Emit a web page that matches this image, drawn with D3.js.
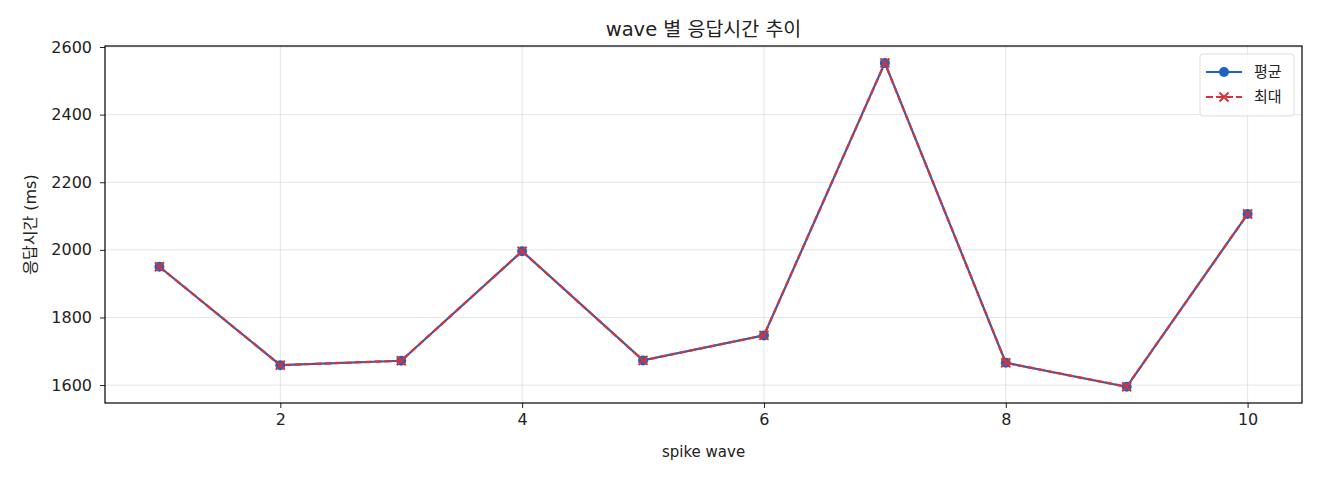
<!DOCTYPE html>
<html><head><meta charset="utf-8">
<script src="https://cdn.jsdelivr.net/npm/d3@7"></script>
<style>
html,body{margin:0;padding:0;background:#fff;}
text{font-family:"DejaVu Sans","Noto Sans CJK KR",sans-serif;fill:#222;}
</style></head>
<body><svg id="c" width="1320" height="480"></svg>
<script>
const waves = [1,2,3,4,5,6,7,8,9,10];
const avgMs = [1950,1659,1672,1996,1673,1747,2553,1666,1595,2106];
const maxMs = [1950,1659,1672,1996,1673,1747,2553,1666,1595,2106];
const xTicks = [2,4,6,8,10];
const yTicks = [1600,1800,2000,2200,2400,2600];
const seriesNames = ["평균","최대"];
const title = "wave 별 응답시간 추이";
const xLabel = "spike wave";
const yLabel = "응답시간 (ms)";

const blue = "#1f62c4", red = "#d3333a";
const FF = '"DejaVu Sans","Noto Sans CJK KR",sans-serif';
const L=105,R=1302,T=46,B=403;
const svg = d3.select("#c");
const x = d3.scaleLinear().domain([0.55,10.45]).range([L,R]);
const y = d3.scaleLinear().domain([1547,2603]).range([B,T]);

// grid
svg.append("g").selectAll("line").data(xTicks).join("line")
  .attr("x1",d=>x(d)).attr("x2",d=>x(d)).attr("y1",T).attr("y2",B)
  .attr("stroke","#000").attr("stroke-opacity",0.1).attr("stroke-width",1);
svg.append("g").selectAll("line").data(yTicks).join("line")
  .attr("y1",d=>y(d)).attr("y2",d=>y(d)).attr("x1",L).attr("x2",R)
  .attr("stroke","#000").attr("stroke-opacity",0.1).attr("stroke-width",1);

// axes
const xa = svg.append("g").attr("transform",`translate(0,${B})`)
  .call(d3.axisBottom(x).tickValues(xTicks).tickSize(5).tickPadding(6).tickFormat(d3.format("d")));
const ya = svg.append("g").attr("transform",`translate(${L},0)`)
  .call(d3.axisLeft(y).tickValues(yTicks).tickSize(5).tickPadding(8).tickFormat(d3.format("d")));
[xa,ya].forEach(a=>{a.select(".domain").remove();a.selectAll("text").attr("font-size",16).attr("fill","#222").style("font-family",FF);a.selectAll("line").attr("stroke","#222");});

svg.append("rect").attr("x",L).attr("y",T).attr("width",R-L).attr("height",B-T)
  .attr("fill","none").attr("stroke","#000").attr("stroke-width",1.2);

// series
const line = d3.line().x((d,i)=>x(waves[i])).y(d=>y(d));
svg.append("path").datum(avgMs).attr("d",line).attr("fill","none").attr("stroke",blue).attr("stroke-width",2.2);
svg.append("g").selectAll("circle").data(avgMs).join("circle")
  .attr("cx",(d,i)=>x(waves[i])).attr("cy",d=>y(d)).attr("r",5).attr("fill",blue);
svg.append("path").datum(maxMs).attr("d",line).attr("fill","none").attr("stroke",red).attr("stroke-width",2.2).attr("stroke-dasharray","7,3");
const xs=4.5;
svg.append("g").selectAll("path").data(maxMs).join("path")
  .attr("d",(d,i)=>{const cx=x(waves[i]),cy=y(d);return `M${cx-xs},${cy-xs}L${cx+xs},${cy+xs}M${cx-xs},${cy+xs}L${cx+xs},${cy-xs}`;})
  .attr("stroke",red).attr("stroke-width",2).attr("fill","none");

// labels
svg.append("text").attr("x",(L+R)/2).attr("y",36).attr("text-anchor","middle").attr("font-size",19.5).text(title);
svg.append("text").attr("x",(L+R)/2).attr("y",457).attr("text-anchor","middle").attr("font-size",15).text(xLabel);
svg.append("text").attr("transform",`translate(36,${(T+B)/2}) rotate(-90)`).attr("text-anchor","middle").attr("font-size",16).text(yLabel);

// legend
const lg = svg.append("g");
lg.append("rect").attr("x",1200).attr("y",54).attr("width",94).attr("height",62).attr("rx",3)
  .attr("fill","#fff").attr("fill-opacity",0.8).attr("stroke","#ddd");
lg.append("line").attr("x1",1206).attr("x2",1242).attr("y1",72).attr("y2",72).attr("stroke",blue).attr("stroke-width",2.2);
lg.append("circle").attr("cx",1224).attr("cy",72).attr("r",5).attr("fill",blue);
lg.append("line").attr("x1",1206).attr("x2",1242).attr("y1",97).attr("y2",97).attr("stroke",red).attr("stroke-width",2.2).attr("stroke-dasharray","7,3");
lg.append("path").attr("d",`M${1224-xs},${97-xs}L${1224+xs},${97+xs}M${1224-xs},${97+xs}L${1224+xs},${97-xs}`).attr("stroke",red).attr("stroke-width",2);
lg.append("text").attr("x",1254).attr("y",77).attr("font-size",15).text(seriesNames[0]);
lg.append("text").attr("x",1254).attr("y",102).attr("font-size",15).text(seriesNames[1]);
</script></body></html>
